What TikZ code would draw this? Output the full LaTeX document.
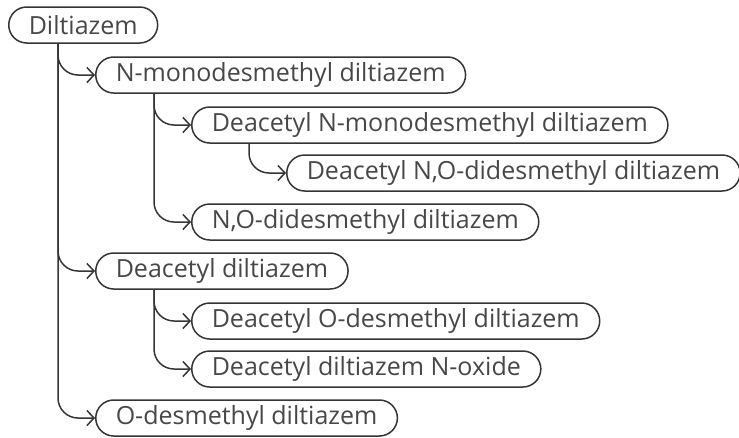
\documentclass[tikz,border=0pt]{standalone}
\usepackage{fontspec}
\setmainfont{Open Sans}
\usetikzlibrary{calc,arrows.meta}
\definecolor{PillLine}{HTML}{353535}
\definecolor{PillText}{HTML}{474747}
\tikzset{
  pill/.style={
    rounded corners=18pt,
    draw=PillLine,
    line width=1.5pt,
    text=PillText,
    minimum height=36pt,
    inner xsep=20pt,
    inner ysep=2pt,
    anchor=west,
    font=\fontsize{25}{29}\selectfont
  },
  branch/.style={
    draw=PillLine,
    line width=1.5pt,
    rounded corners=20pt,
    -{Straight Barb[length=7pt,width=15pt]}
  }
}
\newcommand{\branchto}[2]{%
  \draw[branch] ($(#1.south -| #2.west)+(-37,0)$) |- (#2.west);%
}

\begin{document}
\begin{tikzpicture}[x=1pt,y=-1pt]
  \useasboundingbox (0,0) rectangle (739,437);
  % metabolite tree
  \node[pill] (dil) at (8,25) {Diltiazem};
  \node[pill] (nmono) at (95,75) {N-monodesmethyl diltiazem};
  \node[pill] (deacnmono) at (191,125) {Deacetyl N-monodesmethyl diltiazem};
  \node[pill] (deacnodi) at (286,173) {Deacetyl N,O-didesmethyl diltiazem};
  \node[pill] (nodi) at (191,222) {N,O-didesmethyl diltiazem};
  \node[pill] (deac) at (95,271) {Deacetyl diltiazem};
  \node[pill] (deacodes) at (191,321) {Deacetyl O-desmethyl diltiazem};
  \node[pill] (deacnox) at (191,369) {Deacetyl diltiazem N-oxide};
  \node[pill] (odes) at (95,418) {O-desmethyl diltiazem};
  % connectors
  \branchto{dil}{nmono}
  \branchto{dil}{deac}
  \branchto{dil}{odes}
  \branchto{nmono}{deacnmono}
  \branchto{nmono}{nodi}
  \branchto{deacnmono}{deacnodi}
  \branchto{deac}{deacodes}
  \branchto{deac}{deacnox}
\end{tikzpicture}
\end{document}
